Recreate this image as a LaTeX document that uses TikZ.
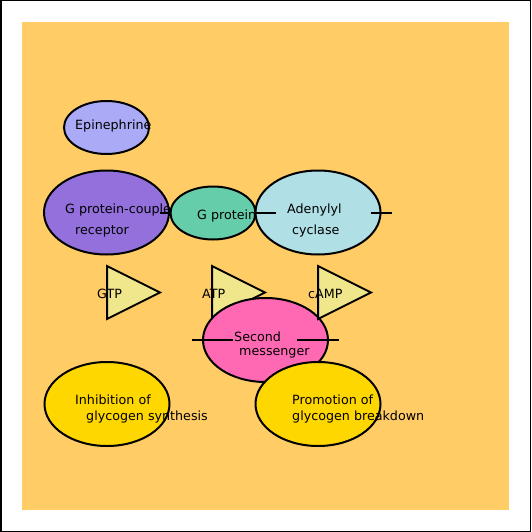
\documentclass[tikz,border=0pt]{standalone}
\usepackage{fontspec}
\setmainfont{DejaVu Sans}
\usepackage{tikz}
\usetikzlibrary{shapes.geometric}
\definecolor{bgorange}{RGB}{255,204,102}
\definecolor{epiblue}{RGB}{170,170,246}
\definecolor{gpcrpurple}{RGB}{147,112,219}
\definecolor{gpgreen}{RGB}{102,205,170}
\definecolor{acblue}{RGB}{176,224,230}
\definecolor{trikhaki}{RGB}{240,230,140}
\definecolor{smpink}{RGB}{255,105,180}
\definecolor{effgold}{RGB}{255,215,0}

\begin{document}
\begin{tikzpicture}[x=1pt,y=-1pt,
  oval/.style={ellipse,draw=black,line width=2pt,inner sep=0pt,
               minimum width=125pt,minimum height=84pt},
  smalloval/.style={oval,minimum width=85pt,minimum height=53pt},
  tri/.style={draw=black,line width=2pt,fill=trikhaki,line join=miter},
  lbl/.style={anchor=base west,inner sep=0pt,font=\fontsize{12.7}{15}\selectfont},
  lnk/.style={draw=black,line width=2pt}
]
\useasboundingbox (0,0) rectangle (531,532);
% frame and background
\draw[line width=1.5pt,fill=white] (0.75,0.75) rectangle (530.25,531.25);
\fill[bgorange] (22,22) rectangle (509,510);

% signal
\node[smalloval,fill=epiblue] (epi) at (106.5,127.5) {};
\node[lbl] (epi-t) at (75,129) {Epinephrine};

% membrane chain
\node[oval,fill=gpcrpurple] (gpcr) at (106.5,212.5) {};
\node[lbl] (gpcr-t1) at (65,213.5) {G protein-coupled};
\node[lbl] (gpcr-t2) at (75,234.5) {receptor};

\node[smalloval,fill=gpgreen] (gprot) at (213,213) {};
\node[lbl] (gprot-t) at (197,219) {G protein};

\node[oval,fill=acblue] (ac) at (318,212.5) {};
\node[lbl] (ac-t1) at (287,213.5) {Adenylyl};
\node[lbl] (ac-t2) at (292,234.5) {cyclase};

% small molecules
\coordinate (gtp) at (107,292.5);
\coordinate (atp) at (212,292.5);
\coordinate (camp) at (318,292.5);
\draw[tri] (gtp) ++(0,-26.5) -- ++(53,26.5) -- ++(-53,26.5) -- cycle;
\node[lbl] (gtp-t) at (97,298) {GTP};
\draw[tri] (atp) ++(0,-26.5) -- ++(53,26.5) -- ++(-53,26.5) -- cycle;
\node[lbl] (atp-t) at (202,298) {ATP};

\node[oval,fill=smpink] (sm) at (265.5,340) {};
\node[lbl] (sm-t1) at (234,341.5) {Second};
\node[lbl] (sm-t2) at (239,355) {messenger};

\draw[tri] (camp) ++(0,-26.5) -- ++(53,26.5) -- ++(-53,26.5) -- cycle;
\node[lbl] (camp-t) at (308,298) {cAMP};

% effects
\node[oval,fill=effgold] (inh) at (107,404) {};
\node[lbl] (inh-t1) at (75,404.5) {Inhibition of};
\node[lbl] (inh-t2) at (86,420.5) {glycogen synthesis};

\node[oval,fill=effgold] (prom) at (318,404) {};
\node[lbl] (prom-t1) at (292,404.5) {Promotion of};
\node[lbl] (prom-t2) at (292,420.5) {glycogen breakdown};

% links
\coordinate (l1a) at (160,213);  \coordinate (l1b) at (171,213);
\coordinate (l2a) at (255,213);  \coordinate (l2b) at (276,213);
\coordinate (l3a) at (371,213);  \coordinate (l3b) at (392,213);
\coordinate (l4a) at (192,340);  \coordinate (l4b) at (233,340);
\coordinate (l5a) at (297,340);  \coordinate (l5b) at (339,340);
\draw[lnk] (l1a) -- (l1b);
\draw[lnk] (l2a) -- (l2b);
\draw[lnk] (l3a) -- (l3b);
\draw[lnk] (l4a) -- (l4b);
\draw[lnk] (l5a) -- (l5b);

\end{tikzpicture}
\end{document}
